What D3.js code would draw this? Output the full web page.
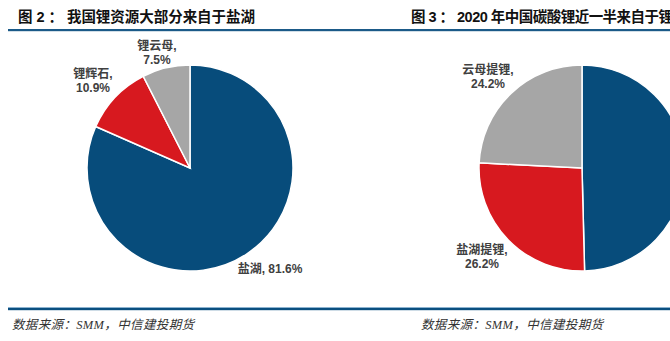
<!DOCTYPE html>
<html><head><meta charset="utf-8">
<script src="https://cdn.jsdelivr.net/npm/d3@7/dist/d3.min.js"></script>
<style>
html,body{margin:0;padding:0;background:#fff;overflow:hidden}
svg{display:block}
</style></head>
<body>
<svg id="c" width="670" height="341"></svg>
<script>
// Chart 1: 我国锂资源来源
const cats1 = ["盐湖", "锂辉石", "锂云母"];
const vals1 = [81.6, 10.9, 7.5];
// Chart 2: 2020年中国碳酸锂来源 (first slice label lies outside the visible area)
const cats2 = ["锂辉石提锂", "盐湖提锂", "云母提锂"];
const vals2 = [49.6, 26.2, 24.2];
const colors = ["#074c7b", "#d7191f", "#a6a6a6"];
const titles = ["图 2 ： 我国锂资源大部分来自于盐湖", "图 3 ： 2020 年中国碳酸锂近一半来自于锂辉石"];
const sourceText = "数据来源：SMM，中信建投期货";

const svg = d3.select("#c");
const font = "'Liberation Sans','Noto Sans CJK SC',sans-serif";

// rules
svg.append("rect").attr("x", 8).attr("y", 29).attr("width", 662).attr("height", 2.2).attr("fill", "#1b5a88");
svg.append("rect").attr("x", 8).attr("y", 307).attr("width", 662).attr("height", 1).attr("fill", "#8db3d0");
svg.append("rect").attr("x", 8).attr("y", 308).attr("width", 662).attr("height", 2.2).attr("fill", "#0b4f80");

// titles
svg.append("text").attr("x", 18).attr("y", 22).text(titles[0])
  .attr("font-family", font).attr("font-weight", 700).attr("font-size", 14.5).attr("fill", "#111")
  .attr("textLength", 237).attr("lengthAdjust", "spacing");
svg.append("text").attr("x", 411).attr("y", 22).text(titles[1])
  .attr("font-family", font).attr("font-weight", 700).attr("font-size", 14.5).attr("fill", "#111")
  .attr("textLength", 290).attr("lengthAdjust", "spacing");

// source
[12, 421].forEach(x => {
  svg.append("text").attr("x", x).attr("y", 329).text(sourceText)
    .attr("font-family", "'Liberation Serif','Noto Sans CJK SC',serif")
    .attr("font-style", "italic").attr("font-size", 12.5).attr("fill", "#333")
    .attr("textLength", 182).attr("lengthAdjust", "spacing");
});

const r = 103;
const pie = d3.pie().sort(null).value(d => d.v);
const arc = d3.arc().innerRadius(0).outerRadius(r);

function drawPie(cx, cy, cats, vals, labelPos) {
  const data = cats.map((c, i) => ({c, v: vals[i], i}));
  const g = svg.append("g").attr("transform", `translate(${cx},${cy})`);
  g.selectAll("path").data(pie(data)).join("path")
    .attr("d", arc).attr("fill", d => colors[d.data.i])
    .attr("stroke", "#fff").attr("stroke-width", 1.5);
  data.forEach((d, i) => {
    const p = labelPos[i];
    if (!p) return;
    const t = svg.append("text").attr("x", p[0]).attr("y", p[1])
      .attr("text-anchor", p[2]).attr("font-family", font).attr("font-weight", 700)
      .attr("font-size", 12).attr("fill", "#404040");
    if (p[3]) {
      t.text(`${d.c}, ${d.v.toFixed(1)}%`);
    } else {
      t.append("tspan").attr("x", p[0]).text(`${d.c},`);
      t.append("tspan").attr("x", p[0]).attr("dy", 14).text(`${d.v.toFixed(1)}%`);
    }
  });
}

drawPie(190, 168, cats1, vals1, [[270, 273, "middle", true], [93, 78, "middle"], [157, 50, "middle"]]);
drawPie(582, 168, cats2, vals2, [null, [482, 254, "middle"], [488, 74, "middle"]]);
</script>
</body></html>
